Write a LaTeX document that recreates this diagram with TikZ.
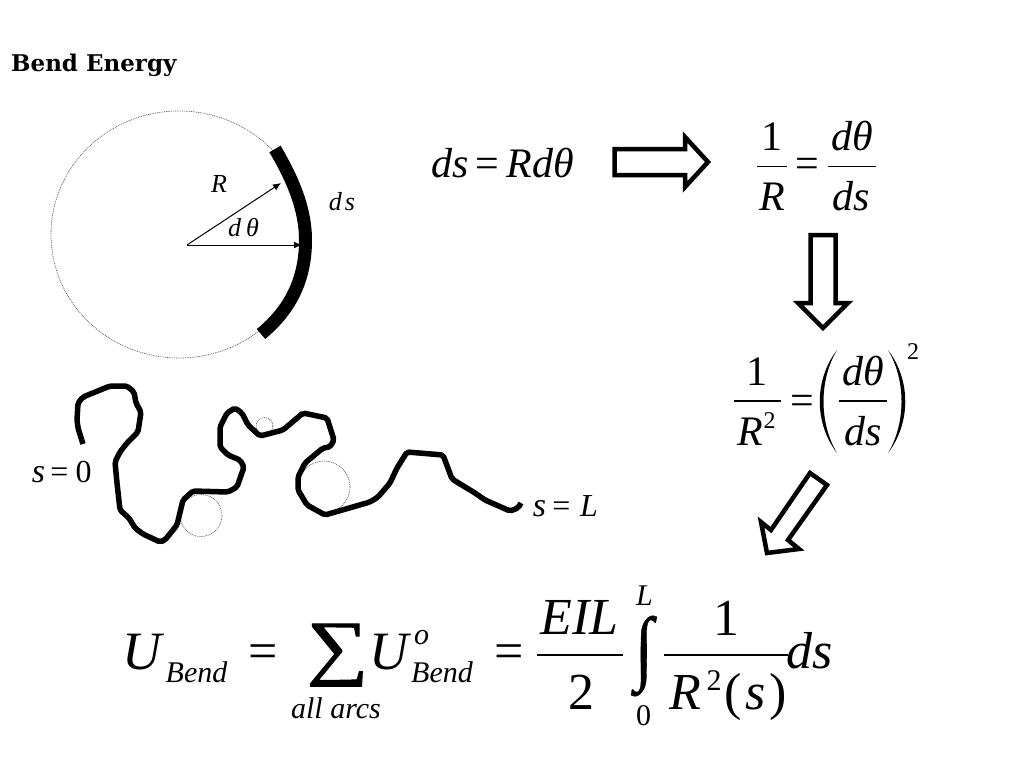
\documentclass[tikz,border=0pt]{standalone}
\usepackage[no-math]{fontspec}
\setmainfont{Liberation Serif}
\newfontfamily\titlefont{DejaVu Serif}
\newfontfamily\signfont[FakeBold=1.4]{Liberation Serif}
\newfontfamily\intfont[FakeBold=0.5]{Liberation Serif}
\usetikzlibrary{arrows.meta}
\newcommand{\fs}[1]{\fontsize{#1}{#1}\selectfont}
\tikzset{
  frag/.style={inner sep=0pt, outer sep=0pt, anchor=base, font=\fs{#1}\itshape},
  upfrag/.style={inner sep=0pt, outer sep=0pt, anchor=base, font=\fs{#1}},
  bigsign/.style={inner sep=0pt, outer sep=0pt, anchor=center, font=\signfont\fs{72}},
  intsign/.style={inner sep=0pt, outer sep=0pt, anchor=center, font=\intfont\fs{72}},
  blockarrow/.style={draw, line width=4.5pt, miter limit=10, fill=white},
  chainline/.style={line width=5.5pt, line join=round, rounded corners=2pt},
  guide/.style={line width=0.7pt, black!65, dash pattern=on 0.9pt off 0.9pt},
  radiusline/.style={line width=1pt, -{Latex[length=8pt,width=7pt]}},
  fracbar/.style={line width=1.4pt}
}
\begin{document}
\begin{tikzpicture}[x=1pt, y=-1pt]
  \useasboundingbox (0,0) rectangle (1024,768);

  % Title
  \node (title) [inner sep=0pt, anchor=base west] at (11,71.5) {\titlefont\bfseries\fs{23}Bend Energy};

  % Circle with the thick arc
  \draw[guide] (179,234.5) ellipse [x radius=128, y radius=123.5];
  \draw[line width=13pt] (275,149) .. controls (292,178) and (305.5,208) .. (305.5,240) .. controls (305.5,280) and (290,310) .. (261,334);
  \coordinate (centre) at (187,245);
  \coordinate (tipR) at (281,183);
  \coordinate (tipT) at (302,245);
  \draw[radiusline] (centre) -- (tipR);
  \draw[radiusline] (centre) -- (tipT);
  \node (labelR) [frag=26] at (219,192) {R};
  \node (labelT) [frag=26] at (243.5,236) {d\hspace{5pt}θ};
  \node (labelS) [frag=26] at (342,210) {d\hspace{3pt}s};

  % Block arrows
  \draw[blockarrow] (614.5,149) -- (685,149) -- (685,137) -- (708,162) -- (685,187) -- (685,175) -- (614.5,175) -- cycle;
  \draw[blockarrow] (810.5,235) -- (835.5,235) -- (835.5,303) -- (848,303) -- (823,328) -- (798,303) -- (810.5,303) -- cycle;
  \draw[blockarrow] (810,473) -- (827,485) -- (788,540) -- (799,549) -- (767,553) -- (761,522) -- (771,530) -- cycle;

  % ds = R d theta
  \node (eqAds) [frag=42] at (450,177) {ds};
  \node (eqAeq) [upfrag=42] at (487,177) {=};
  \node (eqArd) [frag=42] at (540,177) {Rdθ};

  % 1/R = dtheta/ds
  \node (eqBone) [upfrag=42] at (772,150.5) {1};
  \node (eqBr) [frag=42] at (772,210) {R};
  \node (eqBeq) [upfrag=42] at (807,177) {=};
  \node (eqBth) [frag=42] at (852,150.5) {dθ};
  \node (eqBds) [frag=42] at (851,210) {ds};
  \draw[fracbar] (757,166.5) -- (787,166.5);
  \draw[fracbar] (828,166.5) -- (876,166.5);

  % 1/R^2 = (dtheta/ds)^2
  \node (eqCone) [upfrag=42] at (757,385) {1};
  \node (eqCr) [frag=42] at (750,445) {R};
  \node (eqCsq) [upfrag=24] at (769.5,428) {2};
  \node (eqCeq) [upfrag=42] at (802,414) {=};
  \fill (837,350) .. controls (814,380) and (814,423) .. (837,453) .. controls (819,423) and (819,380) .. (837,350);
  \node (eqCth) [frag=42] at (863.5,385) {dθ};
  \node (eqCds) [frag=42] at (863.5,445) {ds};
  \fill (888,350) .. controls (911,380) and (911,423) .. (888,453) .. controls (906,423) and (906,380) .. (888,350);
  \node (eqCpw) [upfrag=24] at (913,359) {2};
  \draw[fracbar] (734,401) -- (781,401);
  \draw[fracbar] (839,401) -- (887,401);

  % Chain with its circles
  \draw[guide] (201,515.5) circle (21);
  \draw[guide] (264.5,426) circle (8.5);
  \draw[guide] (324,487) circle (26);
  \draw[chainline] (83,444) -- (78,428) -- (77,420) -- (78,403) -- (83,397) -- (110,386) -- (127,386) -- (134,392) -- (136,403) -- (141,412) -- (138,432) -- (127,443) -- (120,452) -- (115,462) -- (117,483) -- (120,510) -- (129,518) -- (135,528) -- (143,534) -- (160,542) -- (165,540) -- (177,525) -- (183,500) -- (193,491) -- (228,492) -- (237,487) -- (244,467) -- (240,460) -- (228,455) -- (220,447) -- (220,427) -- (227,413) -- (235,408) -- (242,413) -- (248,425) -- (260,436) -- (283,430) -- (303,413) -- (327,418) -- (334,440) -- (330,447) -- (323,448) -- (305,463) -- (298,477) -- (298,490) -- (307,505) -- (325,515) -- (370,502) -- (378,497) -- (390,483) -- (397,468) -- (407,452) -- (443,455) -- (452,479) -- (475,493) -- (485,500) -- (510,511) -- (518,508) -- (521,503);
  \node (startS) [frag=34] at (38.5,482) {s};
  \node (startEq) [upfrag=32] at (59.5,482) {=};
  \node (startZero) [upfrag=32] at (83.5,482) {0};
  \node (endS) [frag=34] at (539.5,516) {s};
  \node (endEq) [upfrag=32] at (561.5,516) {=};
  \node (endL) [frag=32] at (589,516) {L};

  % Main equation
  \node (mainU) [frag=54] at (142,669) {U};
  \node (mainBend) [frag=30] at (196.5,682) {Bend};
  \node (mainEq) [upfrag=52] at (263,668) {=};
  \node (mainSum) [bigsign, xscale=1.2] at (337.5,655) {∑};
  \node (mainArcs) [frag=30] at (336,718) {all arcs};
  \node (mainUo) [frag=54] at (388.5,669) {U};
  \node (mainO) [frag=30] at (421.5,644) {o};
  \node (mainBendo) [frag=30] at (442,682) {Bend};
  \node (mainEqb) [upfrag=52] at (509,668) {=};
  \node (mainEil) [frag=52] at (579.5,634) {EIL};
  \node (mainTwo) [upfrag=52] at (581,709) {2};
  \node (mainInt) [intsign, xscale=0.95, yscale=1.14] at (644,656) {∫};
  \node (mainUp) [frag=30] at (644.5,605) {L};
  \node (mainLo) [upfrag=30] at (643.5,725) {0};
  \node (mainOne) [upfrag=52] at (726,635) {1};
  \node (mainR) [frag=52] at (685.5,709) {R};
  \node (mainSq) [upfrag=30] at (714,690) {2};
  \node (mainLp) [upfrag=52] at (733,709) {(};
  \node (mainS) [frag=52] at (756,709) {s};
  \node (mainRp) [upfrag=52] at (778,709) {)};
  \node (mainDs) [frag=52] at (810,668) {ds};
  \draw[line width=1.8pt] (537,655) -- (623,655);
  \draw[line width=1.8pt] (664,655) -- (788,655);
\end{tikzpicture}
\end{document}
